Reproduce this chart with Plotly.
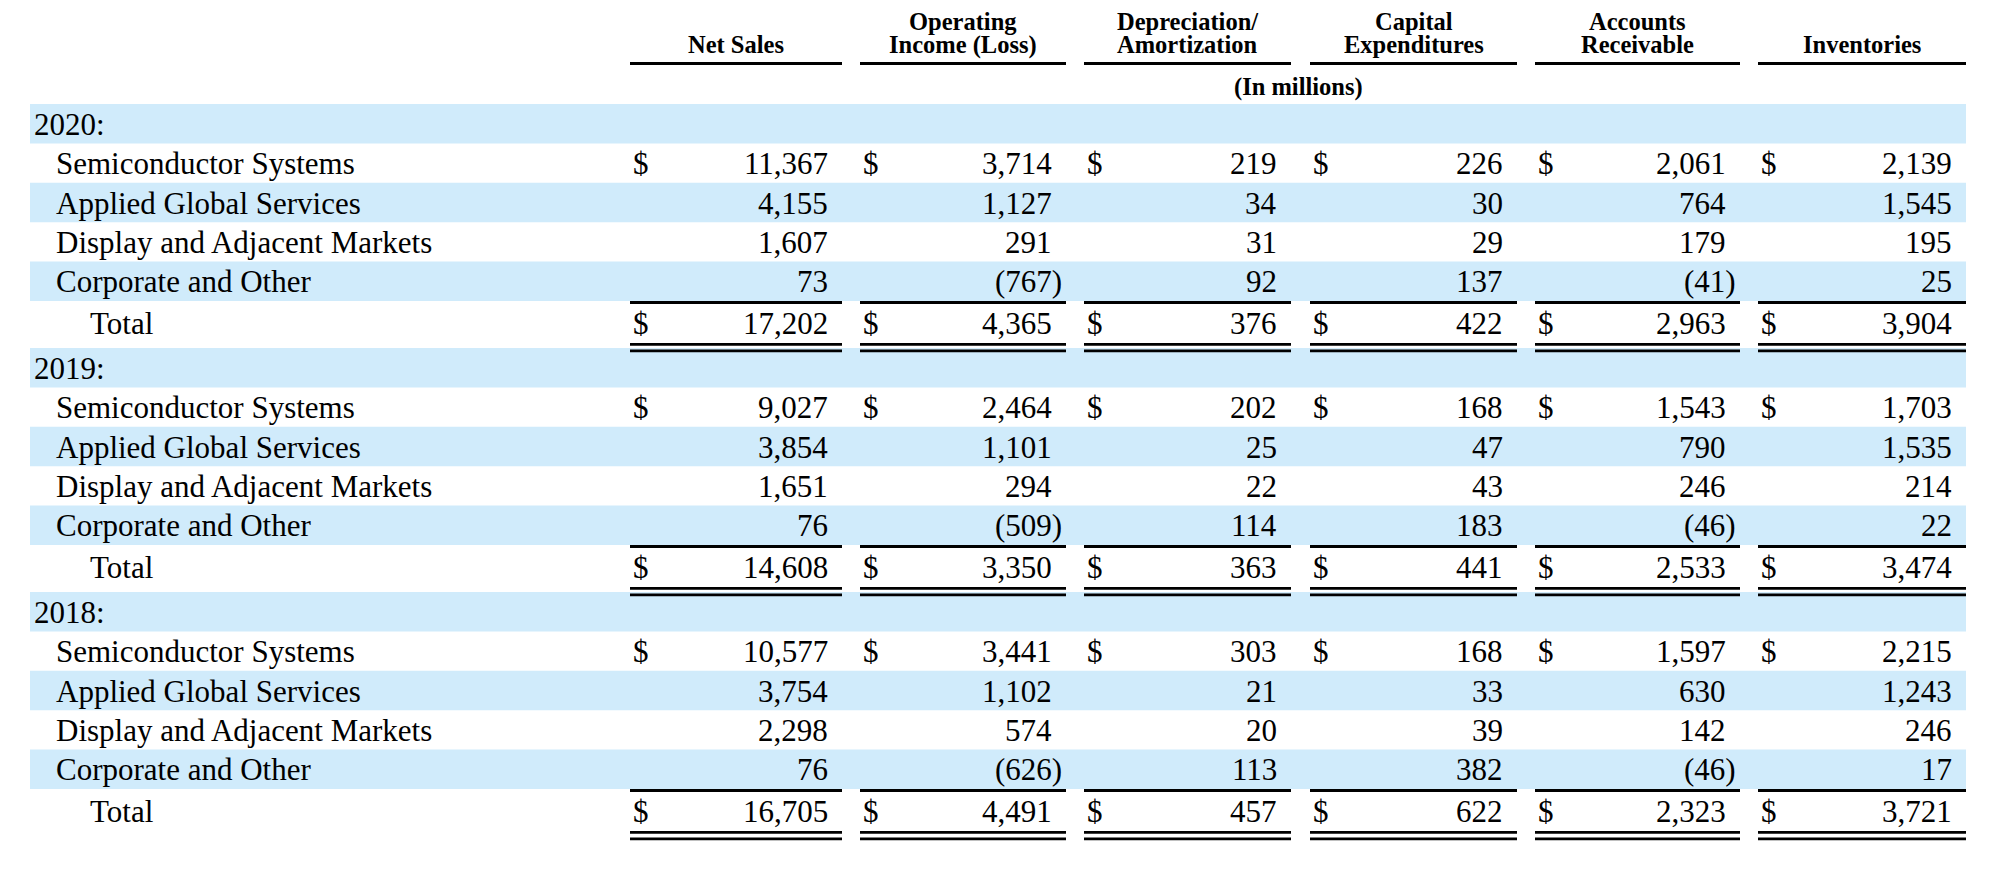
import plotly.graph_objects as go

# ---------------- data ----------------
years = ["2020", "2019", "2018"]
segments = ["Semiconductor Systems", "Applied Global Services",
            "Display and Adjacent Markets", "Corporate and Other"]
total_label = "Total"
col_headers = [["Net Sales"], ["Operating", "Income (Loss)"],
               ["Depreciation/", "Amortization"], ["Capital", "Expenditures"],
               ["Accounts", "Receivable"], ["Inventories"]]
unit_note = "(In millions)"

vals_2020 = [
    [11367, 3714, 219, 226, 2061, 2139],
    [4155, 1127, 34, 30, 764, 1545],
    [1607, 291, 31, 29, 179, 195],
    [73, -767, 92, 137, -41, 25],
]
total_2020 = [17202, 4365, 376, 422, 2963, 3904]

vals_2019 = [
    [9027, 2464, 202, 168, 1543, 1703],
    [3854, 1101, 25, 47, 790, 1535],
    [1651, 294, 22, 43, 246, 214],
    [76, -509, 114, 183, -46, 22],
]
total_2019 = [14608, 3350, 363, 441, 2533, 3474]

vals_2018 = [
    [10577, 3441, 303, 168, 1597, 2215],
    [3754, 1102, 21, 33, 630, 1243],
    [2298, 574, 20, 39, 142, 246],
    [76, -626, 113, 382, -46, 17],
]
total_2018 = [16705, 4491, 457, 622, 2323, 3721]

sections = [(years[0], vals_2020, total_2020),
            (years[1], vals_2019, total_2019),
            (years[2], vals_2018, total_2018)]

# ---------------- layout constants ----------------
W, H = 2000, 872
col_left = [630, 860, 1084, 1310, 1535, 1758]
col_right = [842, 1066, 1291, 1517, 1740, 1966]
shade_x0, shade_x1 = 30, 1966
first_section_top = 104
section_step = 244
row_h = 39.4
shade = "#d0ebfb"
FONT = "Liberation Serif"
body_size = 31
head_size = 24.5
asc_off = 0.3375  # baseline minus box centre, in em


def fmt(v):
    s = f"{abs(v):,}"
    return f"({s})" if v < 0 else s


shapes = []
ann = []


def text(x, y_base, s, size, anchor="left", bold=False):
    ann.append(dict(
        x=x, y=y_base - asc_off * size, xref="x", yref="y",
        text=f"<b>{s}</b>" if bold else s, showarrow=False,
        xanchor=anchor, yanchor="middle", borderpad=0,
        font=dict(family=FONT, size=size, color="black")))


def rect(x0, y0, x1, y1, color):
    shapes.append(dict(type="rect", xref="x", yref="y", x0=x0, x1=x1,
                       y0=y0, y1=y1, fillcolor=color, line=dict(width=0),
                       layer="below"))


# headers
for c, lines in enumerate(col_headers):
    cx = (col_left[c] + col_right[c]) / 2
    if len(lines) == 1:
        text(cx, 53, lines[0], head_size, "center", True)
    else:
        text(cx, 30, lines[0], head_size, "center", True)
        text(cx, 53, lines[1], head_size, "center", True)
    rect(col_left[c], 62, col_right[c], 65, "black")
text((col_left[0] + col_right[-1]) / 2, 95, unit_note, head_size, "center", True)

# body
for k, (yr, rows, tot) in enumerate(sections):
    top = first_section_top + k * section_step
    # year row
    rect(shade_x0, top, shade_x1, top + row_h, shade)
    text(33, top + 30.5, yr + ":", body_size)
    for i, (name, vals) in enumerate(zip(segments, rows)):
        rt = top + (i + 1) * row_h
        if i % 2 == 1:
            rect(shade_x0, rt, shade_x1, rt + row_h, shade)
        base = rt + 30.8
        text(55, base, name, body_size)
        for c, v in enumerate(vals):
            if i == 0:
                text(col_left[c] + 2, base, "$", body_size)
            if v < 0:
                text(col_right[c] - 3.5, base, fmt(v), body_size, "right")
            else:
                text(col_right[c] - 13, base, fmt(v), body_size, "right")
    tt = top + 5 * row_h
    base = tt + 33
    text(89, base, total_label, body_size)
    for c, v in enumerate(tot):
        text(col_left[c] + 2, base, "$", body_size)
        text(col_right[c] - 13, base, fmt(v), body_size, "right")
        rect(col_left[c], tt, col_right[c], tt + 3, "black")
        rect(col_left[c], tt + 42, col_right[c], tt + 44.7, "black")
        rect(col_left[c], tt + 48.5, col_right[c], tt + 51.3, "black")

# black lines must sit above the shading: reorder shapes
shapes_sorted = [s for s in shapes if s["fillcolor"] != "black"] + \
                [s for s in shapes if s["fillcolor"] == "black"]

fig = go.Figure()
fig.update_layout(
    width=W, height=H,
    margin=dict(l=0, r=0, t=0, b=0),
    paper_bgcolor="white", plot_bgcolor="white",
    xaxis=dict(range=[0, W], visible=False, fixedrange=True),
    yaxis=dict(range=[H, 0], visible=False, fixedrange=True),
    shapes=shapes_sorted,
    annotations=ann,
    showlegend=False,
)
fig.write_html("out.html", config={"displayModeBar": False},
               post_script="document.body.style.margin='0';document.body.style.overflow='hidden';")
